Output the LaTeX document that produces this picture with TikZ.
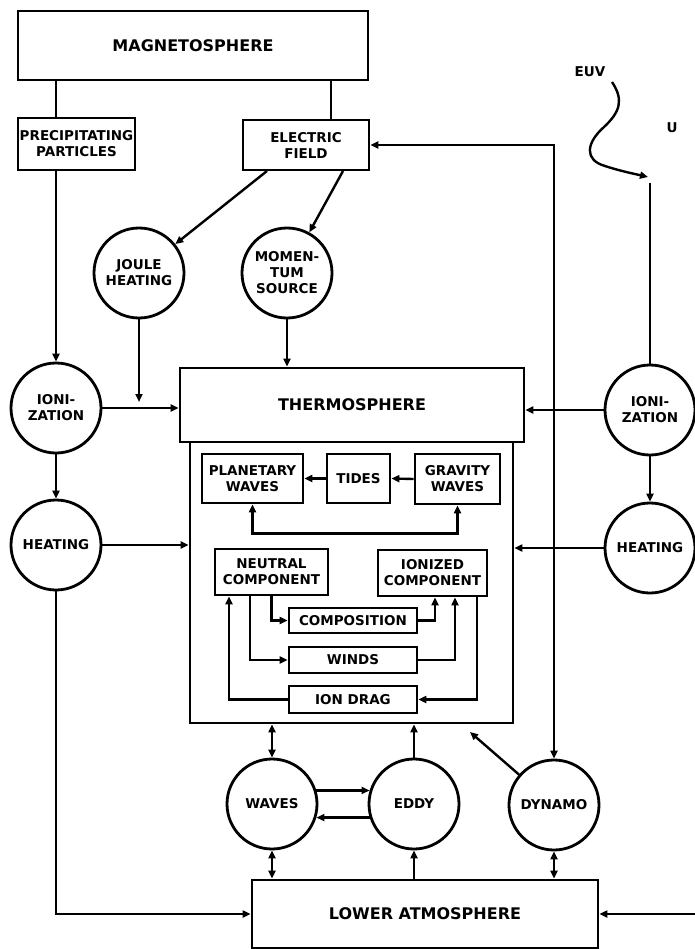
\documentclass[tikz,border=0pt]{standalone}
\usepackage{fontspec}
\setmainfont{DejaVu Sans}
\usetikzlibrary{arrows.meta,calc}
\tikzset{
  lbl/.style={font=\bfseries\fontsize{13.5}{16}\selectfont, align=center},
  big/.style={font=\bfseries\fontsize{16}{19}\selectfont},
  box/.style={draw, line width=2.8pt, rectangle, inner sep=0pt, lbl},
  circ/.style={draw, line width=2.8pt, circle, minimum size=90pt, inner sep=0pt, lbl},
  con/.style={line width=2.4pt},
  arr/.style={con, -{Triangle[length=8pt,width=7pt]}},
  darr/.style={con, {Triangle[length=8pt,width=7pt]}-{Triangle[length=8pt,width=7pt]}},
}
\begin{document}
\begin{tikzpicture}[x=1pt,y=-1pt]
\useasboundingbox (0,0) rectangle (695,949);
% nodes
\node[box, big, minimum width=350pt, minimum height=69pt] (mag) at (193,45.5) {MAGNETOSPHERE};
\node[box, minimum width=117pt, minimum height=52pt] (precip) at (76.5,144) {PRECIPITATING\\PARTICLES};
\node[box, minimum width=126pt, minimum height=50pt] (efield) at (306,145) {ELECTRIC\\FIELD};
\node[circ] (joule) at (139,273) {JOULE\\HEATING};
\node[circ] (mom) at (287,273) {MOMEN-\\TUM\\SOURCE};
\node[circ] (ionL) at (56,408) {IONI-\\ZATION};
\node[circ] (heatL) at (56,545) {HEATING};
\node[draw, line width=2.8pt, minimum width=323pt, minimum height=281pt, inner sep=0pt] (core) at (351.5,582.5) {};
\node[box, big, minimum width=344pt, minimum height=74pt, fill=white] (thermo) at (352,405) {THERMOSPHERE};
\node[box, minimum width=101pt, minimum height=49pt] (planet) at (252.5,478.5) {PLANETARY\\WAVES};
\node[box, minimum width=63pt, minimum height=49pt] (tides) at (358.5,478.5) {TIDES};
\node[box, minimum width=85pt, minimum height=50pt] (grav) at (457.5,479) {GRAVITY\\WAVES};
\node[box, minimum width=113pt, minimum height=46pt] (neutral) at (271.5,572) {NEUTRAL\\COMPONENT};
\node[box, minimum width=109pt, minimum height=46pt] (ionized) at (432.5,573) {IONIZED\\COMPONENT};
\node[box, minimum width=128pt, minimum height=25pt] (comp) at (353,620.5) {COMPOSITION};
\node[box, minimum width=128pt, minimum height=26pt] (winds) at (353,660) {WINDS};
\node[box, minimum width=128pt, minimum height=27pt] (drag) at (353,699.5) {ION DRAG};
\node[circ] (ionR) at (650,410) {IONI-\\ZATION};
\node[circ] (heatR) at (650,548) {HEATING};
\node[circ] (waves) at (272,804) {WAVES};
\node[circ] (eddy) at (414,804) {EDDY};
\node[circ] (dynamo) at (554,805) {DYNAMO};
\node[box, big, minimum width=346pt, minimum height=68pt] (lower) at (425,914) {LOWER ATMOSPHERE};
\node[lbl] (euv) at (590,72) {EUV};
\node[lbl] (u) at (672,128) {U};
% helper coordinates
\coordinate (cmx) at (331,0);
\coordinate (ef1) at (267,171);
\coordinate (ef2) at (343,171);
\coordinate (jend) at (139,402);
\coordinate (dyend) at (470,732);
\coordinate (euvs) at (612,82);
\coordinate (euve) at (648,177);
\coordinate (euvl) at (650,183);
\coordinate (n1) at (229,0);
\coordinate (n2) at (250,0);
\coordinate (i1) at (435,0);
\coordinate (i2) at (455,0);
\coordinate (i3) at (477,0);
\coordinate (rin) at (695,914);
% connectors
\draw[con] (mag.south -| ionL) -- (precip.north -| ionL);
\draw[con] (mag.south -| cmx) -- (efield.north -| cmx);
\draw[arr] (precip.south -| ionL) -- (ionL.north);
\draw[arr] (ef1) -- (joule);
\draw[arr] (ef2) -- (mom);
\draw[arr] (joule.south) -- (jend);
\draw[arr] (mom.south) -- (mom.south |- thermo.north);
\draw[arr] (ionL.east) -- (thermo.west |- ionL.east);
\draw[arr] (ionL.south) -- (heatL.north);
\draw[arr] (heatL.east) -- (core.west |- heatL.east);
\draw[arr] (heatL.south) |- (lower.west);
\draw[arr] (ionR.west) -- (thermo.east |- ionR.west);
\draw[arr] (ionR.south) -- (heatR.north);
\draw[arr] (heatR.west) -- (core.east |- heatR.west);
\draw[darr] (efield.east) -| (dynamo.north);
\draw[arr] (euvs) .. controls (624,100) and (620,112) .. (604,127) .. controls (586,143) and (584,160) .. (605,166) .. controls (620,171) and (635,174) .. (euve);
\draw[con] (euvl) -- (ionR.north);
\draw[arr] (tides.west) -- (planet.east);
\draw[arr] (grav.west) -- (tides.east);
\draw[darr] (planet.south) -- ++(0,29) -| (grav.south);
\draw[arr] (neutral.south) |- (comp.west);
\draw[arr] (comp.east) -| (ionized.south -| i1);
\draw[arr] (neutral.south -| n2) |- (winds.west);
\draw[arr] (winds.east) -| (ionized.south -| i2);
\draw[arr] (ionized.south -| i3) |- (drag.east);
\draw[arr] (drag.west) -| (neutral.south -| n1);
\draw[darr] (core.south -| waves) -- (waves.north);
\draw[arr] (eddy.north) -- (core.south -| eddy);
\draw[arr] (dynamo) -- (dyend);
\draw[arr] (waves.17) -- (eddy.163);
\draw[arr] (eddy.197) -- (waves.-17);
\draw[darr] (waves.south) -- (lower.north -| waves);
\draw[arr] (lower.north -| eddy) -- (eddy.south);
\draw[darr] (dynamo.south) -- (lower.north -| dynamo);
\draw[arr] (rin) -- (lower.east);
\end{tikzpicture}
\end{document}
